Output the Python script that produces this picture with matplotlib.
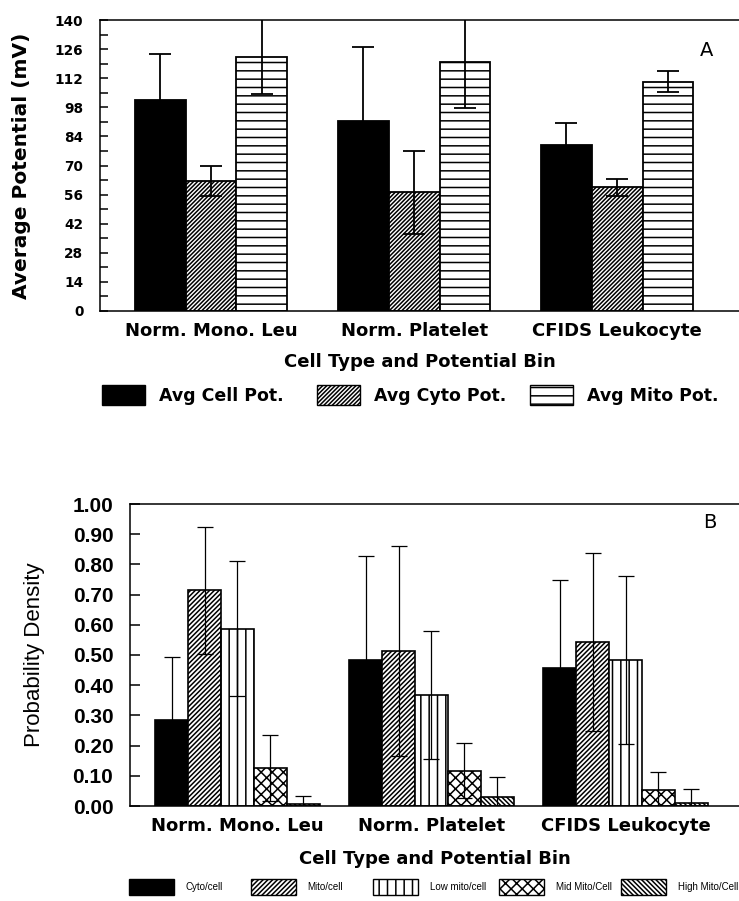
import numpy as np
import matplotlib
matplotlib.use("Agg")
import matplotlib.pyplot as plt
from matplotlib.patches import Patch
from matplotlib.ticker import MultipleLocator, FormatStrFormatter

plt.rcParams['font.family'] = ['Liberation Sans', 'DejaVu Sans']
plt.rcParams['hatch.linewidth'] = 1.1

# ---- data, panel A ----
cell_types = ["Norm. Mono. Leu", "Norm. Platelet", "CFIDS Leukocyte"]
pot_labels = ["Avg Cell Pot.", "Avg Cyto Pot.", "Avg Mito Pot."]
pot_cell = [101.3, 91.4, 80.0]
pot_cell_err = [22.2, 35.6, 10.6]
pot_cyto = [62.5, 57.1, 59.5]
pot_cyto_err = [7.3, 20.1, 4.2]
pot_mito = [122.4, 119.6, 110.3]
pot_mito_err = [18.0, 22.0, 5.0]

# ---- data, panel B ----
bin_labels = ["Cyto/cell", "Mito/cell", "Low mito/cell", "Mid Mito/Cell", "High Mito/Cell"]
pd_cyto = [0.284, 0.484, 0.456]
pd_cyto_err = [0.209, 0.345, 0.293]
pd_mito = [0.714, 0.514, 0.544]
pd_mito_err = [0.210, 0.347, 0.294]
pd_low = [0.587, 0.367, 0.483]
pd_low_err = [0.224, 0.213, 0.278]
pd_mid = [0.127, 0.117, 0.052]
pd_mid_err = [0.109, 0.090, 0.062]
pd_high = [0.007, 0.031, 0.009]
pd_high_err = [0.026, 0.065, 0.048]

W, H = 739, 901
fig = plt.figure(figsize=(W / 100, H / 100), dpi=100)
bold_wide = dict(family='DejaVu Sans', weight='bold')


def legend_row(handles, xs_px, y_px, size, family, weight, hlen_px, h_px, pad):
    # one small legend per entry so the entries sit at fixed positions
    fs_px = size * 100 / 72
    hh = (h_px / fs_px - 0.245) / 0.65
    for h, xp in zip(handles, xs_px):
        fig.legend(handles=[h], loc='center left', bbox_to_anchor=(xp / W, 1 - y_px / H),
                   frameon=False, borderpad=0, borderaxespad=0,
                   prop=dict(size=size, family=family, weight=weight),
                   handlelength=hlen_px / fs_px, handleheight=hh,
                   handletextpad=pad)


# ================= panel A =================
axA = fig.add_axes([100 / W, 1 - 311 / H, 1 - 100 / W, 291 / H])
x = np.arange(len(cell_types))
w = 0.25
styles_a = [dict(color='black'), dict(color='white', hatch='/' * 8), dict(color='white', hatch='--')]
series_a = [(pot_cell, pot_cell_err), (pot_cyto, pot_cyto_err), (pot_mito, pot_mito_err)]
handles_a = []
for i, ((vals, errs), st) in enumerate(zip(series_a, styles_a)):
    xs = x + (i - 1) * w
    axA.bar(xs, vals, width=w, facecolor=st['color'], edgecolor='black',
            hatch=st.get('hatch'), linewidth=1.3, zorder=2)
    axA.errorbar(xs, vals, yerr=errs, fmt='none', ecolor='black', elinewidth=1.3,
                 capsize=8, capthick=1.3, zorder=3)
    handles_a.append(Patch(facecolor=st['color'], edgecolor='black', hatch=st.get('hatch'),
                           linewidth=1.0, label=pot_labels[i]))

axA.set_xlim(-0.547, 2.60)
axA.set_ylim(0, 140)
axA.yaxis.set_major_locator(MultipleLocator(14))
axA.yaxis.set_minor_locator(MultipleLocator(7))
axA.tick_params(axis='y', which='both', direction='in', length=6, width=1.1, pad=12)
axA.tick_params(axis='x', length=0, pad=8)
axA.set_yticks(axA.get_yticks())
axA.set_yticklabels([f"{int(v)}" for v in axA.get_yticks()], fontsize=9.8, **bold_wide)
axA.set_ylim(0, 140)
axA.set_xticks(x)
axA.set_xticklabels(cell_types, fontsize=13, **bold_wide)
axA.spines['right'].set_visible(False)
for s in ['top', 'left', 'bottom']:
    axA.spines[s].set_linewidth(1.1)
axA.set_ylabel("Average Potential (mV)", fontsize=14.5, labelpad=17, **bold_wide)
axA.set_xlabel("Cell Type and Potential Bin", fontsize=13, labelpad=9, **bold_wide)
axA.text(0.949, 0.895, "A", transform=axA.transAxes, fontsize=14, ha='center', va='center',
         family='DejaVu Sans')
legend_row(handles_a, [102, 317, 530], 395, 12.5, 'DejaVu Sans', 'bold', 43, 20, 0.8)

# ================= panel B =================
axB = fig.add_axes([130 / W, 1 - 806 / H, 1 - 130 / W, 302 / H])
wb = 0.17
styles_b = [dict(color='black'), dict(color='white', hatch='/' * 7), dict(color='white', hatch='||'),
            dict(color='white', hatch='xxx'), dict(color='white', hatch='\\' * 7)]
series_b = [(pd_cyto, pd_cyto_err), (pd_mito, pd_mito_err), (pd_low, pd_low_err),
            (pd_mid, pd_mid_err), (pd_high, pd_high_err)]
handles_b = []
for i, ((vals, errs), st) in enumerate(zip(series_b, styles_b)):
    xs = x + (i - 2) * wb
    axB.bar(xs, vals, width=wb, facecolor=st['color'], edgecolor='black',
            hatch=st.get('hatch'), linewidth=1.2, zorder=2)
    axB.errorbar(xs, vals, yerr=errs, fmt='none', ecolor='black', elinewidth=0.9,
                 capsize=5.8, capthick=0.9, zorder=3)
    handles_b.append(Patch(facecolor=st['color'], edgecolor='black', hatch=st.get('hatch'),
                           linewidth=1.0, label=bin_labels[i]))

axB.set_xlim(-0.554, 2.585)
axB.set_ylim(0, 1.0)
axB.yaxis.set_major_locator(MultipleLocator(0.1))
axB.yaxis.set_major_formatter(FormatStrFormatter('%.2f'))
axB.tick_params(axis='y', direction='in', length=7, width=1.1, labelsize=15, pad=12)
axB.tick_params(axis='x', length=0, pad=8)
for t in axB.get_yticklabels():
    t.set_fontweight('bold')
axB.set_xticks(x)
axB.set_xticklabels(cell_types, fontsize=13, **bold_wide)
axB.spines['right'].set_visible(False)
for s in ['top', 'left', 'bottom']:
    axB.spines[s].set_linewidth(1.1)
axB.set_ylabel("Probability Density", fontsize=16, labelpad=20)
axB.set_xlabel("Cell Type and Potential Bin", fontsize=13, labelpad=11, **bold_wide)
axB.text(0.952, 0.94, "B", transform=axB.transAxes, fontsize=14, ha='center', va='center',
         family='DejaVu Sans')
legend_row(handles_b, [129, 251, 373, 499, 621], 887, 7, 'Liberation Sans', 'normal', 45, 16, 1.2)

fig.savefig("out.png", dpi=100)
